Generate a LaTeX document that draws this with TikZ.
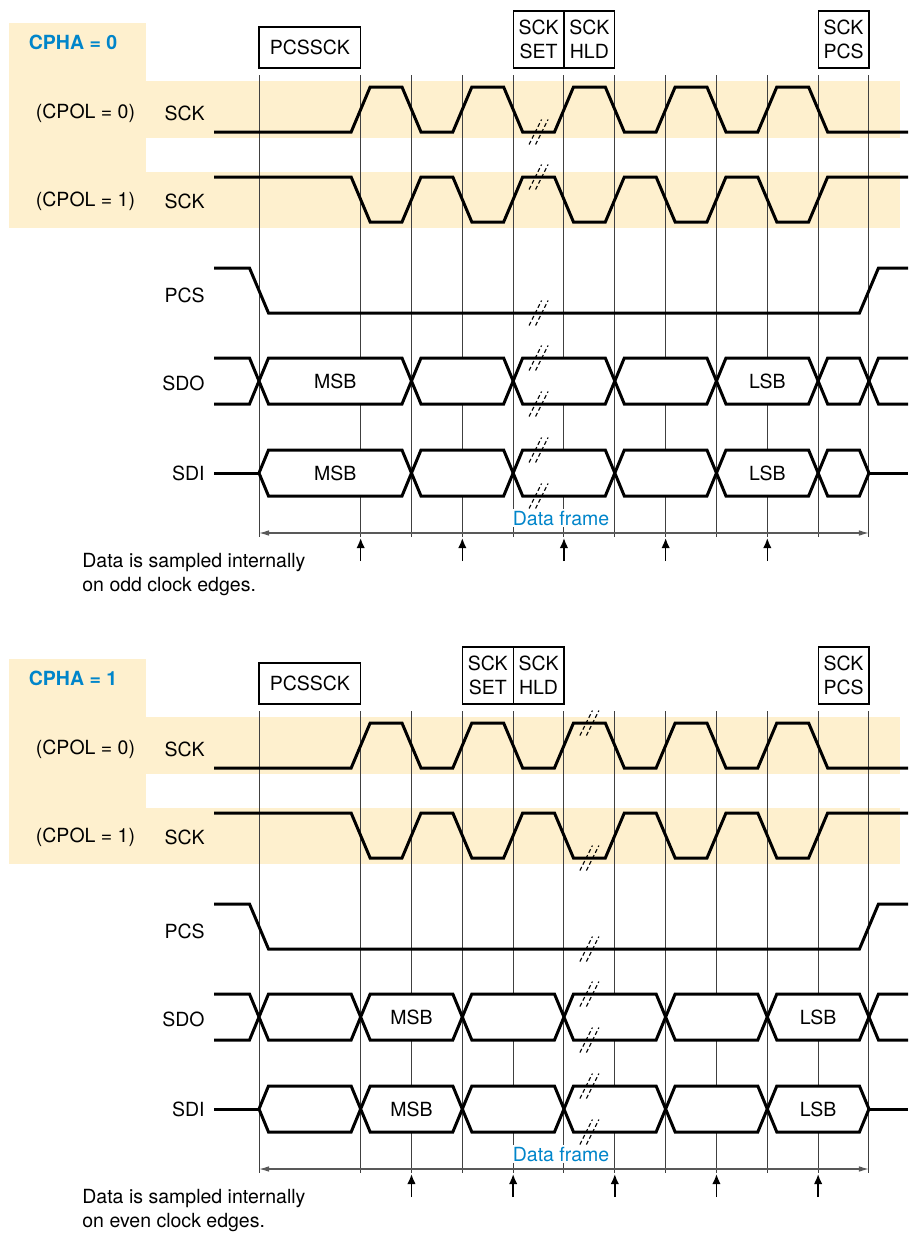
\documentclass[tikz,border=0pt]{standalone}
\usepackage{fontspec}
\setmainfont{TeX Gyre Heros}
\usepackage{xcolor}
\usepackage{tikz}
\usetikzlibrary{arrows.meta,positioning,calc}
\definecolor{bandtan}{RGB}{254,240,206}
\definecolor{cphablue}{RGB}{0,133,202}
\newcommand{\gridx}[1]{259+50.83*(#1)}
\tikzset{brk/.pic={
  \draw[brkline] (-9.5,12.5) -- (3,-12.5);
  \draw[brkline] (-3,12.5) -- (9.5,-12.5);}}

\begin{document}
\begin{tikzpicture}[x=0.5pt,y=-0.5pt,>=Latex,
  lbl/.style={font=\fontsize{9.75}{12}\selectfont,inner sep=0pt},
  tbox/.style={lbl,draw,line width=0.55pt,align=center},
  wave/.style={line width=1.5pt},
  gline/.style={line width=0.5pt,black!75},
  brkline/.style={line width=0.55pt,dash pattern=on 2pt off 1.3pt},
  frame/.style={<->,line width=0.6pt,black!65,>={Latex[length=5pt,width=2.8pt]}},
  samp/.style={->,line width=0.8pt,>={Latex[length=5pt,width=4.2pt]}}]
\useasboundingbox (0,0) rectangle (909,1233);
\foreach \p/\edg in {0/odd,1/even}{
\begin{scope}[shift={(0,636*\p)}]
% shaded bands
\fill[bandtan] (9,23) rectangle (146,228);
\fill[bandtan] (146,81) rectangle (900,138);
\fill[bandtan] (146,172) rectangle (900,228);
\node[lbl,font=\fontsize{9.75}{12}\selectfont\bfseries,text=cphablue] (cpha\p) at (73,42) {CPHA = \p};
% delay boxes
\node[tbox,minimum width=50.8pt,minimum height=20.5pt] (pcssck\p) at ({\gridx{1}},47.5) {PCSSCK};
\node[tbox,minimum width=25.4pt,minimum height=28.5pt] (sckset\p) at ({\gridx{5.5-\p}},39.5) {SCK\\SET};
\node[tbox,minimum width=25.4pt,minimum height=28.5pt] (sckhld\p) at ({\gridx{6.5-\p}},39.5) {SCK\\HLD};
\node[tbox,minimum width=25.4pt,minimum height=28.5pt] (sckpcs\p) at ({\gridx{11.5}},39.5) {SCK\\PCS};
% grid
\foreach \k in {0,2,3,...,12} \draw[gline] ({\gridx{\k}},75) -- ({\gridx{\k}},537);
% signal names
\node[lbl] (cpolz\p) at (85.5,113) {(CPOL = 0)};
\node[lbl] (cpolo\p) at (85.5,201) {(CPOL = 1)};
\node[lbl,anchor=east] (scka\p) at (205,113) {SCK};
\node[lbl,anchor=east] (sckb\p) at (205,201) {SCK};
\node[lbl,anchor=east] (pcs\p) at (205,295) {PCS};
\node[lbl,anchor=east] (sdo\p) at (205,383) {SDO};
\node[lbl,anchor=east] (sdi\p) at (205,473) {SDI};
% SCK
\draw[wave] (214,132) \foreach \k in {2,...,11}{ -- ({\gridx{\k}-9.5},{87+45*mod(\k+1,2)}) -- ({\gridx{\k}+9.5},{87+45*mod(\k,2)}) } -- (908,132);
\draw[wave] (214,177) \foreach \k in {2,...,11}{ -- ({\gridx{\k}-9.5},{177+45*mod(\k,2)}) -- ({\gridx{\k}+9.5},{177+45*mod(\k+1,2)}) } -- (908,177);
% PCS
\draw[wave] (214,268) -- ({\gridx{0}-9.5},268) -- ({\gridx{0}+9.5},313) -- ({\gridx{12}-9.5},313) -- ({\gridx{12}+9.5},268) -- (908,268);
% SDO / SDI
\draw[wave] (214,358) -- ({\gridx{0}-9.5},358) -- ({\gridx{0}},381) -- ({\gridx{0}-9.5},404) -- (214,404);
\draw[wave] (908,358) -- ({\gridx{12}+9.5},358) -- ({\gridx{12}},381) -- ({\gridx{12}+9.5},404) -- (908,404);
\draw[wave] (214,473) -- ({\gridx{0}},473);
\draw[wave] ({\gridx{12}},473) -- (908,473);
\foreach \a/\b in {0/3-\p,3-\p/5-\p,5-\p/7-\p,7-\p/9-\p,9-\p/11-\p,11-\p/12}{
  \draw[wave,fill=white] ({\gridx{\a}},381) -- ({\gridx{\a}+9.5},358) -- ({\gridx{\b}-9.5},358) -- ({\gridx{\b}},381) -- ({\gridx{\b}-9.5},404) -- ({\gridx{\a}+9.5},404) -- cycle;
  \draw[wave,fill=white] ({\gridx{\a}},473) -- ({\gridx{\a}+9.5},450) -- ({\gridx{\b}-9.5},450) -- ({\gridx{\b}},473) -- ({\gridx{\b}-9.5},496) -- ({\gridx{\a}+9.5},496) -- cycle;
}
\node[lbl] (msbo\p) at ({\gridx{1.5+1.5*\p}},381) {MSB};
\node[lbl] (msbi\p) at ({\gridx{1.5+1.5*\p}},473) {MSB};
\node[lbl] (lsbo\p) at ({\gridx{10+\p}},381) {LSB};
\node[lbl] (lsbi\p) at ({\gridx{10+\p}},473) {LSB};
% breaks
\foreach \yy in {132-45*\p,177+45*\p,313,358,404,450,496} \pic at ({\gridx{5.5+\p}},{\yy}) {brk};
% data frame and sampling edges
\coordinate (fs\p) at ({\gridx{0}},533);
\coordinate (fe\p) at ({\gridx{12}},533);
\draw[frame] (fs\p) -- (fe\p);
\node[lbl,text=cphablue,fill=white,inner sep=0.8pt] (dframe\p) at (561,518) {Data frame};
\foreach \j in {2,4,...,10}{
  \coordinate (sb\p\j) at ({\gridx{\j+\p}},561);
  \coordinate (st\p\j) at ({\gridx{\j+\p}},538);
  \draw[samp] (sb\p\j) -- (st\p\j);
}
\node[lbl,align=left,anchor=west] (note\p) at (82,575) {Data is sampled internally\\on \edg\ clock edges.};
\end{scope}
}
\end{tikzpicture}
\end{document}
